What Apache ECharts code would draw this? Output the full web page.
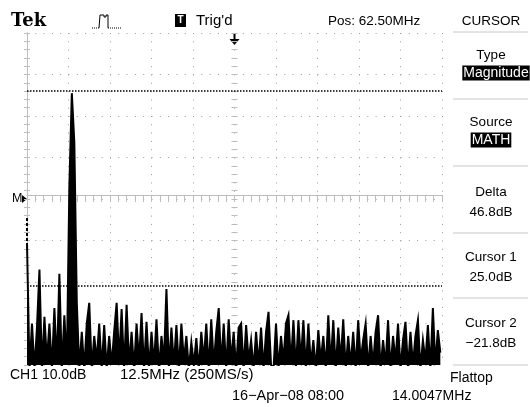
<!DOCTYPE html>
<html>
<head>
<meta charset="utf-8">
<script src="https://cdn.jsdelivr.net/npm/echarts@6/dist/echarts.min.js"></script>
<style>
html,body{margin:0;padding:0;background:#fff;}
#chart{width:530px;height:407px;}
</style>
</head>
<body>
<div id="chart"></div>
<script>
// ---- data ----
const freqStepMHz = 0.75;          // FFT bin spacing on screen
const freqRangeMHz = [0, 125];     // 12.5 MHz/div x 10 div
const freqTickMHz = 12.5;
const dbRange = [-41, 39];         // 10 dB/div x 8 div
const dbTick = 10;
const magnitudeDb = [
  -11.6, -42, -31, -42, -32, -18, -42, -29.4, -40, -31,
  -42, -27.3, -41, -19, -42, -29, -41, 1.7, 24.5, 12.7,
  -26, -42, -33, -42, -31, -26, -42, -34, -40, -31,
  -42, -31.4, -42, -34, -41, -33, -26, -40, -27.5, -42,
  -26.5, -41, -33, -42, -31, -40, -28.5, -42, -30.6, -42,
  -33, -41, -30, -42, -34, -40, -22.7, -42, -32, -41,
  -31.4, -42, -31, -40, -34, -42, -35.5, -41, -34.5, -42,
  -33, -40, -31, -42, -30, -41, -33, -27.3, -41, -31,
  -42, -30, -40, -33, -42, -32, -31, -42, -31.4, -40,
  -35, -42, -33, -41, -32, -42, -33, -28.2, -41, -42,
  -31, -42, -34, -40, -31, -29, -41, -30.2, -42, -30.2,
  -40, -30.2, -42, -31, -41, -35, -42, -32.6, -40, -34,
  -42, -29, -41, -30.2, -42, -32, -40, -30, -42, -34,
  -41, -33, -42, -30.2, -40, -35, -31, -42, -34, -41,
  -33, -29, -42, -35, -41, -30.2, -42, -34, -40, -31,
  -42, -35, -30.6, -42, -33, -41, -34, -30.2, -42, -35,
  -40, -31.4, -42, -27.3, -41, -32.6, -38
];
const dcSegmentDb = [-5.6, -11.6];
const cursorDb = [25.0, -21.8];

// ---- text ----
const headerTexts = {tek: 'Tek', trig: "Trig'd", pos: 'Pos: 62.50MHz', menu: 'CURSOR'};
const menuItems = [
  {title: 'Type', value: 'Magnitude', inverted: true},
  {title: 'Source', value: 'MATH', inverted: true},
  {title: 'Delta', value: '46.8dB'},
  {title: 'Cursor 1', value: '25.0dB'},
  {title: 'Cursor 2', value: '\u221221.8dB'}
];
const footerTexts = {ch: 'CH1 10.0dB', span: '12.5MHz (250MS/s)', date: '16\u2212Apr\u221208 08:00', freq: '14.0047MHz', window: 'Flattop'};

// ---- build ----
const trace = magnitudeDb.map((v, i) => [i * freqStepMHz, v]);
const dcSeg = dcSegmentDb.map(v => [0, v]);

const FONT = "'Liberation Sans', Arial, sans-serif";
const GRID = '#bdbdbd';
const DOT = '#9c9c9c';

function xAx(extra) {
  return Object.assign({
    type: 'value', min: freqRangeMHz[0], max: freqRangeMHz[1], interval: freqTickMHz,
    axisLabel: {show: false},
    axisLine: {show: false},
    axisTick: {show: true, inside: true, length: 3, lineStyle: {color: GRID}},
    minorTick: {show: true, splitNumber: 5, length: 3, lineStyle: {color: GRID}},
    splitLine: {show: false}
  }, extra);
}
function yAx(extra) {
  return Object.assign({
    type: 'value', min: dbRange[0], max: dbRange[1], interval: dbTick,
    axisLabel: {show: false},
    axisLine: {show: false},
    axisTick: {show: true, inside: true, length: 3, lineStyle: {color: GRID}},
    minorTick: {show: true, splitNumber: 5, length: 3, lineStyle: {color: GRID}},
    splitLine: {show: false}
  }, extra);
}

const graphics = [];
function txt(text, x, y, opts) {
  opts = opts || {};
  graphics.push({
    type: 'text', x: x, y: y, silent: true, z: 10,
    style: Object.assign({
      text: text, fill: '#000', font: (opts.weight || 'normal') + ' ' + (opts.size || 13) + 'px ' + (opts.family || FONT),
      align: opts.align || 'left', verticalAlign: 'middle'
    }, opts.style || {})
  });
}
function hline(x1, x2, y, color) {
  graphics.push({type: 'line', silent: true, shape: {x1: x1, y1: y, x2: x2, y2: y}, style: {stroke: color || '#c8c8c8', lineWidth: 1}});
}

// header
txt(headerTexts.tek, 11, 21, {size: 18, weight: 'bold', family: "'DejaVu Serif', serif"});
graphics.push({type: 'polyline', silent: true, shape: {points: [[92,28],[99,28]]}, style: {stroke: '#000', lineWidth: 1, lineDash: [1,1]}});
graphics.push({type: 'polyline', silent: true, shape: {points: [[99,28],[100,15],[104,15],[104,17],[106,17],[106,15],[108,15],[108,28]]}, style: {stroke: '#000', lineWidth: 1, fill: null}});
graphics.push({type: 'polyline', silent: true, shape: {points: [[108,28],[122,28]]}, style: {stroke: '#000', lineWidth: 1, lineDash: [1,1]}});
graphics.push({type: 'rect', silent: true, shape: {x: 175, y: 14, width: 11, height: 13}, style: {fill: '#000'}});
txt('T', 180.5, 20.5, {size: 10, weight: 'bold', align: 'center', style: {fill: '#fff'}});
txt(headerTexts.trig, 196, 21, {size: 15});
txt(headerTexts.pos, 328, 21, {size: 13.5});
txt(headerTexts.menu, 491, 21, {size: 13.5, align: 'center'});
hline(453, 528, 32);
// trigger/position arrow
graphics.push({type: 'line', silent: true, shape: {x1: 234.5, y1: 34, x2: 234.5, y2: 40}, style: {stroke: '#000', lineWidth: 2}});
graphics.push({type: 'polygon', silent: true, shape: {points: [[229.5,39],[239.5,39],[234.5,45]]}, style: {fill: '#000'}});
// M marker
txt('M', 12, 199, {size: 12.5});
graphics.push({type: 'polygon', silent: true, shape: {points: [[22,195],[27,199],[22,203]]}, style: {fill: '#000'}});

// menu
const menuTitleY = [55, 122, 192, 257, 323];
const menuSepY = [99, 166, 233, 298, 365];
menuItems.forEach((m, k) => {
  txt(m.title, 491, menuTitleY[k], {size: 13.5, align: 'center'});
  if (m.inverted) {
    txt(m.value, k === 0 ? 496 : 491, menuTitleY[k] + 18, {size: 14, align: 'center', style: {fill: '#fff', backgroundColor: '#000', padding: [1, 1, 0, 1]}});
  } else {
    txt(m.value, 491, menuTitleY[k] + 20, {size: 13.5, align: 'center'});
  }
  hline(453, 528, menuSepY[k]);
});
txt(footerTexts.window, 450, 378, {size: 14});

// footer
txt(footerTexts.ch, 10, 375, {size: 14});
txt(footerTexts.span, 120, 375, {size: 15});
txt(footerTexts.date, 232, 396, {size: 14.5});
txt(footerTexts.freq, 392, 396, {size: 14});

const option = {
  animation: false,
  backgroundColor: '#fff',
  grid: {left: 27, top: 33, width: 415, height: 332, show: false},
  xAxis: [
    xAx({position: 'top', axisLine: {show: true, lineStyle: {color: GRID}},
         splitLine: {show: true, lineStyle: {color: DOT, type: [1, 7.3], width: 1}}}),
    xAx({position: 'bottom', offset: -166}),
    xAx({position: 'top', offset: -166})
  ],
  yAxis: [
    yAx({position: 'left', axisLine: {show: true, lineStyle: {color: GRID}},
         splitLine: {show: true, lineStyle: {color: DOT, type: [1, 7.3], width: 1}}}),
    yAx({position: 'right', axisLine: {show: true, lineStyle: {color: GRID}}}),
    yAx({position: 'left', offset: -207.5}),
    yAx({position: 'right', offset: -207.5})
  ],
  series: [
    {
      type: 'line', name: 'FFT', xAxisIndex: 0, yAxisIndex: 0,
      data: trace, showSymbol: false, symbol: 'none',
      lineStyle: {color: '#000', width: 2, join: 'miter'},
      areaStyle: {color: '#000', opacity: 1, origin: 'start'}, z: 5,
      markLine: {
        silent: true, symbol: 'none', label: {show: false},
        lineStyle: {color: '#000', type: [1.5, 1.5], width: 1.5},
        data: cursorDb.map(v => ({yAxis: v}))
      }
    },
    {
      type: 'line', name: 'DC', xAxisIndex: 0, yAxisIndex: 0,
      data: dcSeg, showSymbol: false, symbol: 'none',
      lineStyle: {color: '#000', width: 2, type: [3, 2]}, z: 5
    }
  ],
  graphic: graphics
};

const chart = echarts.init(document.getElementById('chart'), null, {renderer: 'canvas'});
chart.setOption(option);
</script>
</body>
</html>
